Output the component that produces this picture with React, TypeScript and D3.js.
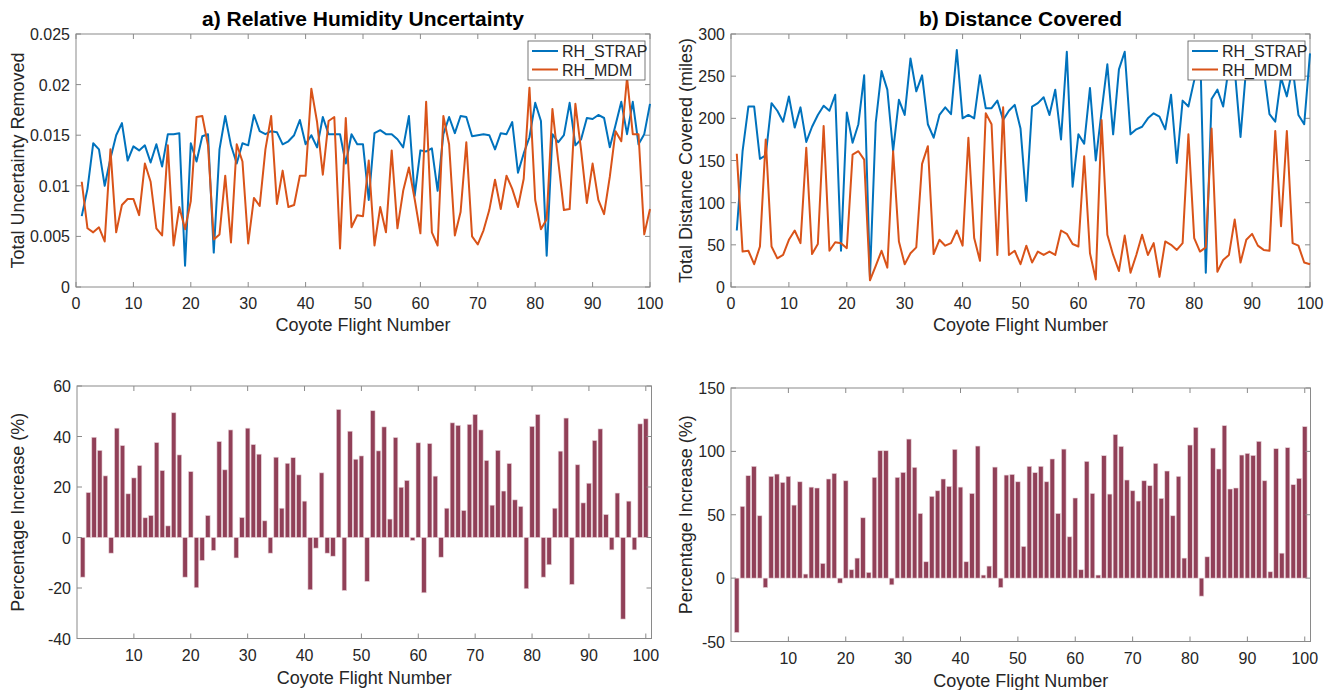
import React from "react";
import * as d3 from "d3";

// flight numbers 1..100
const flights = d3.range(1, 101);

const rhStrap = [
  0.0070, 0.0097, 0.0142, 0.0136, 0.0100, 0.0127, 0.0150, 0.0162, 0.0125, 0.0139,
  0.0135, 0.0140, 0.0123, 0.0141, 0.0119, 0.0151, 0.0151, 0.0152, 0.0021, 0.0142,
  0.0124, 0.0149, 0.0151, 0.0034, 0.0136, 0.0169, 0.0140, 0.0122, 0.0142, 0.0140,
  0.0170, 0.0154, 0.0151, 0.0154, 0.0153, 0.0141, 0.0144, 0.0150, 0.0165, 0.0141,
  0.0150, 0.0138, 0.0168, 0.0151, 0.0151, 0.0151, 0.0122, 0.0151, 0.0141, 0.0141,
  0.0086, 0.0152, 0.0155, 0.0151, 0.0151, 0.0146, 0.0138, 0.0169, 0.0090, 0.0135,
  0.0134, 0.0137, 0.0095, 0.0151, 0.0168, 0.0152, 0.0169, 0.0168, 0.0149, 0.0150,
  0.0151, 0.0150, 0.0136, 0.0152, 0.0151, 0.0163, 0.0113, 0.0132, 0.0148, 0.0182,
  0.0164, 0.0031, 0.0151, 0.0143, 0.0150, 0.0182, 0.0140, 0.0146, 0.0167, 0.0166,
  0.0170, 0.0167, 0.0138, 0.0160, 0.0183, 0.0151, 0.0183, 0.0141, 0.0151, 0.0181,
];

const rhMdm = [
  0.0104, 0.0058, 0.0054, 0.0059, 0.0045, 0.0136, 0.0054, 0.0081, 0.0087, 0.0087,
  0.0071, 0.0122, 0.0104, 0.0058, 0.0051, 0.0140, 0.0041, 0.0079, 0.0057, 0.0085,
  0.0168, 0.0169, 0.0140, 0.0047, 0.0052, 0.0110, 0.0044, 0.0141, 0.0124, 0.0043,
  0.0088, 0.0080, 0.0136, 0.0169, 0.0082, 0.0115, 0.0079, 0.0081, 0.0110, 0.0110,
  0.0196, 0.0163, 0.0111, 0.0164, 0.0168, 0.0038, 0.0167, 0.0059, 0.0071, 0.0070,
  0.0125, 0.0041, 0.0079, 0.0054, 0.0135, 0.0058, 0.0095, 0.0118, 0.0087, 0.0053,
  0.0183, 0.0054, 0.0041, 0.0169, 0.0141, 0.0051, 0.0074, 0.0143, 0.0050, 0.0042,
  0.0056, 0.0076, 0.0106, 0.0077, 0.0110, 0.0097, 0.0079, 0.0107, 0.0197, 0.0086,
  0.0057, 0.0067, 0.0176, 0.0125, 0.0076, 0.0077, 0.0181, 0.0135, 0.0083, 0.0122,
  0.0086, 0.0072, 0.0109, 0.0154, 0.0144, 0.0207, 0.0151, 0.0151, 0.0052, 0.0077,
];

const distStrap = [
  67, 161, 214, 214, 152, 156, 218, 209, 196, 226,
  189, 213, 172, 190, 204, 215, 209, 228, 43, 207,
  171, 193, 251, 12, 195, 256, 234, 161, 222, 204,
  271, 232, 251, 193, 177, 204, 213, 205, 281, 200,
  204, 200, 251, 212, 212, 221, 198, 209, 216, 188,
  102, 214, 218, 225, 204, 234, 175, 279, 119, 181,
  170, 236, 150, 208, 264, 181, 258, 279, 181, 187,
  190, 200, 206, 202, 187, 228, 147, 221, 214, 245,
  290, 17, 223, 234, 214, 262, 258, 178, 262, 250,
  278, 258, 205, 196, 248, 226, 260, 204, 193, 277,
];

const distMdm = [
  158, 42, 43, 27, 48, 175, 48, 34, 38, 56,
  67, 52, 165, 39, 51, 191, 43, 53, 52, 46,
  157, 161, 151, 8, 25, 43, 23, 161, 54, 27,
  40, 47, 146, 167, 39, 56, 49, 52, 67, 49,
  177, 58, 31, 206, 193, 38, 213, 38, 43, 27,
  49, 29, 42, 38, 42, 38, 67, 63, 51, 48,
  155, 40, 9, 198, 62, 38, 19, 61, 17, 38,
  62, 38, 52, 12, 54, 50, 44, 52, 181, 58,
  42, 47, 188, 18, 32, 38, 80, 29, 56, 63,
  49, 44, 43, 185, 72, 185, 52, 49, 29, 27,
];

const rhIncrease = [
  -15.7, 17.8, 39.7, 34.5, 24.4, -6.2, 43.3, 36.4, 17.3, 23.6,
  28.5, 7.8, 8.7, 37.6, 26.5, 4.6, 49.4, 32.7, -15.7, 26.1,
  -19.9, -9.1, 8.7, -5.1, 38.0, 26.8, 42.6, -8.1, 7.9, 43.3,
  36.8, 33.0, 6.6, -6.2, 31.8, 11.6, 29.4, 31.6, 24.8, 14.4,
  -20.7, -4.2, 25.6, -6.2, -7.4, 50.7, -21.0, 42.1, 31.0, 32.3,
  -17.4, 50.2, 34.3, 43.8, 7.3, 39.6, 19.9, 22.6, -1.2, 37.5,
  -21.9, 37.2, 24.3, -7.8, 11.6, 45.4, 44.4, 10.7, 44.8, 48.7,
  42.6, 30.5, 12.8, 34.5, 18.4, 29.3, 14.9, 12.3, -20.3, 44.0,
  48.7, -15.7, -10.8, 11.6, 34.2, 47.3, -18.6, 28.8, 13.7, 21.5,
  38.4, 43.0, 9.1, -4.9, 17.6, -32.3, 14.4, -4.9, 45.0, 47.0,
];

const distIncrease = [
  -42.9, 56.6, 80.8, 88.2, 49.2, -7.4, 80.3, 82.1, 75.5, 80.3,
  57.6, 76.0, 3.2, 71.8, 71.1, 11.6, 78.2, 82.6, -3.9, 76.8,
  6.6, 15.8, 47.6, 4.5, 79.5, 100.5, 100.5, -5.3, 79.5, 83.4,
  109.7, 87.4, 51.0, 12.9, 64.5, 68.9, 78.2, 72.4, 101.6, 71.8,
  12.9, 66.8, 104.2, 2.4, 9.5, 87.6, -7.4, 81.3, 81.8, 76.0,
  25.0, 88.2, 83.2, 88.2, 76.0, 94.0, 51.0, 101.8, 32.6, 63.2,
  6.6, 92.1, 66.8, 2.4, 96.6, 66.3, 113.2, 103.9, 77.4, 68.9,
  60.8, 76.8, 72.9, 90.5, 62.9, 84.5, 49.2, 80.3, 15.8, 105.0,
  118.9, -14.2, 16.8, 102.6, 86.1, 120.3, 70.3, 71.1, 97.1, 98.4,
  96.8, 107.9, 76.8, 5.0, 102.1, 19.7, 102.9, 73.7, 78.7, 119.5,
];

const seriesNames = ["RH_STRAP", "RH_MDM"];
const lineXTicks = [0, 10, 20, 30, 40, 50, 60, 70, 80, 90, 100];
const barXTicks = [10, 20, 30, 40, 50, 60, 70, 80, 90, 100];
const rhTicks = [0, 0.005, 0.01, 0.015, 0.02, 0.025];
const distTicks = [0, 50, 100, 150, 200, 250, 300];
const rhPctTicks = [-40, -20, 0, 20, 40, 60];
const distPctTicks = [-50, 0, 50, 100, 150];

const BLUE = "#0072BD";
const ORANGE = "#D95319";
const BAR = "#914058";
const AXIS = "#8a8a8a";
const TEXT = "#262626";
const FONT = "'Liberation Sans', Arial, Helvetica, sans-serif";
const TICK = 5;

type Box = { left: number; right: number; top: number; bottom: number };

function Frame({ box, x, y, xTicks, yTicks, yFmt }: any) {
  return (
    <g>
      {xTicks.map((t: number) => (
        <g key={"x" + t}>
          <line x1={x(t)} x2={x(t)} y1={box.bottom} y2={box.bottom - TICK} stroke={AXIS} />
          <line x1={x(t)} x2={x(t)} y1={box.top} y2={box.top + TICK} stroke={AXIS} />
          <text x={x(t)} y={box.bottom + 22} textAnchor="middle" fontSize={16} fill={TEXT}>
            {t}
          </text>
        </g>
      ))}
      {yTicks.map((t: number) => (
        <g key={"y" + t}>
          <line x1={box.left} x2={box.left + TICK} y1={y(t)} y2={y(t)} stroke={AXIS} />
          <line x1={box.right} x2={box.right - TICK} y1={y(t)} y2={y(t)} stroke={AXIS} />
          <text x={box.left - 6} y={y(t) + 6} textAnchor="end" fontSize={16} fill={TEXT}>
            {yFmt(t)}
          </text>
        </g>
      ))}
      <rect x={box.left} y={box.top} width={box.right - box.left} height={box.bottom - box.top}
        fill="none" stroke={AXIS} strokeWidth={1} />
    </g>
  );
}

function Labels({ box, title, xLabel, yLabel, yLabelX, xLabelY }: any) {
  const cx = (box.left + box.right) / 2;
  const cy = (box.top + box.bottom) / 2;
  return (
    <g fill={TEXT}>
      {title && (
        <text x={cx} y={box.top - 8} textAnchor="middle" fontSize={21} fontWeight="bold" fill="#000">
          {title}
        </text>
      )}
      <text x={cx} y={xLabelY} textAnchor="middle" fontSize={18}>{xLabel}</text>
      <text transform={`translate(${yLabelX},${cy}) rotate(-90)`} textAnchor="middle" fontSize={18}>
        {yLabel}
      </text>
    </g>
  );
}

function LinePanel({ box, a, b, yMax, yTicks, yFmt, title, yLabel, yLabelX }: any) {
  const x = d3.scaleLinear().domain([0, 100]).range([box.left, box.right]);
  const y = d3.scaleLinear().domain([0, yMax]).range([box.bottom, box.top]);
  const line = d3.line<number>().x((_, i) => x(flights[i])).y((d) => y(d));
  const lx = box.right - 122;
  const ly = box.top + 7;
  return (
    <g>
      <Frame box={box} x={x} y={y} xTicks={lineXTicks} yTicks={yTicks} yFmt={yFmt} />
      <path d={line(a) || ""} fill="none" stroke={BLUE} strokeWidth={2} strokeLinejoin="round" />
      <path d={line(b) || ""} fill="none" stroke={ORANGE} strokeWidth={2} strokeLinejoin="round" />
      <g>
        <rect x={lx} y={ly} width={117} height={39} fill="#fff" stroke="#555" strokeWidth={0.8} />
        {[BLUE, ORANGE].map((c, i) => (
          <g key={c}>
            <line x1={lx + 4} x2={lx + 30} y1={ly + 10 + i * 18.5} y2={ly + 10 + i * 18.5} stroke={c} strokeWidth={2} />
            <text x={lx + 34} y={ly + 16 + i * 18.5} fontSize={16} fill={TEXT}>{seriesNames[i]}</text>
          </g>
        ))}
      </g>
      <Labels box={box} title={title} xLabel="Coyote Flight Number" yLabel={yLabel}
        yLabelX={yLabelX} xLabelY={box.bottom + 44} />
    </g>
  );
}

function BarPanel({ box, values, yDomain, yTicks, yLabelX }: any) {
  const x = d3.scaleLinear().domain([0, 101]).range([box.left, box.right]);
  const y = d3.scaleLinear().domain(yDomain).range([box.bottom, box.top]);
  const w = x(0.8) - x(0);
  return (
    <g>
      {values.map((v: number, i: number) => (
        <rect key={i} x={x(flights[i]) - w / 2} y={y(Math.max(0, v))} width={w}
          height={Math.abs(y(v) - y(0))} fill={BAR} stroke="#e8d3d9" strokeWidth={0.6} />
      ))}
      <Frame box={box} x={x} y={y} xTicks={barXTicks} yTicks={yTicks} yFmt={(t: number) => String(t)} />
      <Labels box={box} xLabel="Coyote Flight Number" yLabel="Percentage Increase (%)"
        yLabelX={yLabelX} xLabelY={box.bottom + 45} />
    </g>
  );
}

export default function App() {
  const tl: Box = { left: 76, right: 650, top: 34, bottom: 287 };
  const tr: Box = { left: 731, right: 1310, top: 34, bottom: 287 };
  const bl: Box = { left: 77, right: 651.5, top: 386, bottom: 638.5 };
  const br: Box = { left: 731, right: 1310.5, top: 388, bottom: 641.5 };
  return (
    <svg width={1336} height={690} style={{ position: "absolute", left: 0, top: 0, background: "#fff" }}
      fontFamily={FONT}>
      <rect width={1336} height={690} fill="#fff" />
      <LinePanel box={tl} a={rhStrap} b={rhMdm} yMax={0.025} yTicks={rhTicks}
        yFmt={(t: number) => (t === 0 ? "0" : String(+t.toFixed(3)))}
        title="a) Relative Humidity Uncertainty" yLabel="Total Uncertainty Removed" yLabelX={24} />
      <LinePanel box={tr} a={distStrap} b={distMdm} yMax={300} yTicks={distTicks}
        yFmt={(t: number) => String(t)}
        title="b) Distance Covered" yLabel="Total Distance Covered (miles)" yLabelX={692} />
      <BarPanel box={bl} values={rhIncrease} yDomain={[-40, 60]} yTicks={rhPctTicks} yLabelX={24} />
      <BarPanel box={br} values={distIncrease} yDomain={[-50, 150]} yTicks={distPctTicks} yLabelX={692} />
    </svg>
  );
}
